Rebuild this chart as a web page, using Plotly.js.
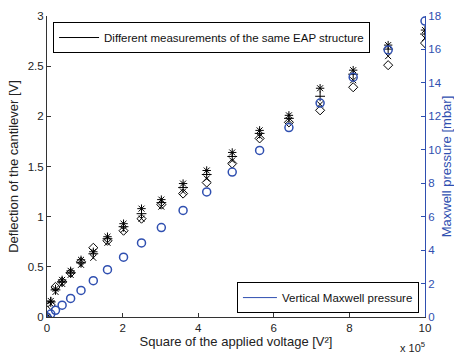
<!DOCTYPE html>
<html>
<head>
<meta charset="utf-8">
<script src="https://cdn.plot.ly/plotly-3.0.1.min.js"></script>
<style>html,body{margin:0;padding:0;background:#fff;} #chart{width:454px;height:354px;}</style>
</head>
<body>
<div id="chart"></div>
<script>
// Square of applied voltage (x 10^5 V^2)
const voltageSq = [0, 0.1, 0.225, 0.4, 0.625, 0.9, 1.225, 1.6, 2.025, 2.5, 3.025, 3.6, 4.225, 4.9, 5.625, 6.4, 7.225, 8.1, 9.025, 10];
// Deflection measurements [V] (several runs of the same EAP structure)
const runStar    = [0, 0.16, 0.28, 0.37, 0.46, 0.57, 0.65, 0.80, 0.93, 1.08, 1.17, 1.33, 1.46, 1.64, 1.86, 2.01, 2.28, 2.46, 2.71, 2.86];
const runCross   = [0, 0.13, 0.25, 0.33, 0.42, 0.52, 0.59, 0.74, 0.87, 0.98, 1.10, 1.25, 1.38, 1.56, 1.80, 1.96, 2.12, 2.36, 2.60, 2.78];
const runDiamond = [0, 0.12, 0.30, 0.35, 0.44, 0.55, 0.69, 0.76, 0.86, 0.98, 1.12, 1.23, 1.34, 1.53, 1.78, 1.94, 2.06, 2.29, 2.51, 2.73];
const runPlus    = [0, 0.15, 0.27, 0.35, 0.44, 0.54, 0.63, 0.78, 0.90, 1.03, 1.14, 1.29, 1.42, 1.60, 1.83, 1.98, 2.20, 2.42, 2.67, 2.82];
// Vertical Maxwell pressure [mbar]
const maxwell = [0, 0.18, 0.40, 0.71, 1.11, 1.59, 2.17, 2.83, 3.58, 4.43, 5.35, 6.37, 7.48, 8.67, 9.96, 11.33, 12.79, 14.34, 15.97, 17.70];

const legend1Text = "Different measurements of the same EAP structure";
const legend2Text = "Vertical Maxwell pressure";

const BLUE = "#2f4fb0";
const FONT = "Liberation Sans, Arial, sans-serif";

const mk = (sym, y, size) => ({
  x: voltageSq, y: y, type: "scatter", mode: "markers", showlegend: false,
  marker: {symbol: sym, size: size, color: "#000", line: {color: "#000", width: 1}},
  hoverinfo: "skip"
});

const traces = [
  mk("diamond-open", runDiamond, 7),
  mk("x-thin-open", runCross, 6),
  mk("cross-thin-open", runPlus, 7),
  mk("asterisk-open", runStar, 7),
  {x: voltageSq, y: maxwell, type: "scatter", mode: "markers", yaxis: "y2", showlegend: false,
   marker: {symbol: "circle-open", size: 8, color: BLUE, line: {color: BLUE, width: 1.5}}},
  // legend entries (MATLAB style line samples)
  {x: [null], y: [null], type: "scatter", mode: "lines", name: legend1Text,
   line: {color: "#000", width: 1}, legend: "legend"},
  {x: [null], y: [null], type: "scatter", mode: "lines", name: legend2Text, yaxis: "y2",
   line: {color: BLUE, width: 1}, legend: "legend2"}
];

const layout = {
  width: 454, height: 354,
  margin: {l: 47, r: 29, t: 16, b: 37},
  paper_bgcolor: "#fff", plot_bgcolor: "#fff",
  font: {family: FONT, size: 11, color: "#222"},
  xaxis: {
    range: [0, 10], tickvals: [0, 2, 4, 6, 8, 10], ticks: "inside", ticklen: 4,
    showline: true, linecolor: "#333", linewidth: 1, tickcolor: "#333",
    showgrid: false, zeroline: false, tickfont: {size: 11.5, color: "#222"},
    title: {text: "Square of the applied voltage [V²]", font: {size: 13}, standoff: 3},
    automargin: false
  },
  xaxis2: {
    range: [0, 10], tickvals: [0, 2, 4, 6, 8, 10], overlaying: "x", side: "top", anchor: "y",
    ticks: "inside", ticklen: 4, showline: true, linecolor: BLUE, tickcolor: BLUE,
    showticklabels: false, showgrid: false, zeroline: false
  },
  yaxis: {
    range: [0, 3], tickvals: [0, 0.5, 1, 1.5, 2, 2.5, 3], ticktext: ["0", "0.5", "1", "1.5", "2", "2.5", "3"],
    ticks: "inside", ticklen: 4, showline: true, linecolor: "#333", tickcolor: "#333",
    showgrid: false, zeroline: false, tickfont: {size: 11.5, color: "#222"},
    title: {text: "Deflection of the cantilever [V]", font: {size: 13}, standoff: 6},
    automargin: false
  },
  yaxis2: {
    range: [0, 18], tickvals: [0, 2, 4, 6, 8, 10, 12, 14, 16, 18], overlaying: "y", side: "right", anchor: "x",
    ticks: "inside", ticklen: 4, showline: true, linecolor: BLUE, tickcolor: BLUE,
    showgrid: false, zeroline: false, tickfont: {size: 11.5, color: BLUE},
    title: {text: "Maxwell pressure [mbar]", font: {size: 13, color: BLUE}, standoff: 3},
    automargin: false
  },
  legend: {
    x: 0.016, y: 0.98, xanchor: "left", yanchor: "top",
    bgcolor: "#fff", bordercolor: "#000", borderwidth: 1,
    font: {size: 11.5, color: "#111"}, itemwidth: 40, tracegroupgap: 0
  },
  legend2: {
    x: 0.984, y: 0.013, xanchor: "right", yanchor: "bottom",
    bgcolor: "#fff", bordercolor: "#000", borderwidth: 1,
    font: {size: 11.5, color: "#111"}, itemwidth: 34
  },
  annotations: [
    {text: "x 10<sup>5</sup>", xref: "paper", yref: "paper", x: 0.966, y: -0.1,
     xanchor: "center", yanchor: "middle", showarrow: false, font: {size: 11, color: "#222"}}
  ],
  showlegend: true
};

Plotly.newPlot("chart", traces, layout, {displayModeBar: false, staticPlot: true});
</script>
</body>
</html>
